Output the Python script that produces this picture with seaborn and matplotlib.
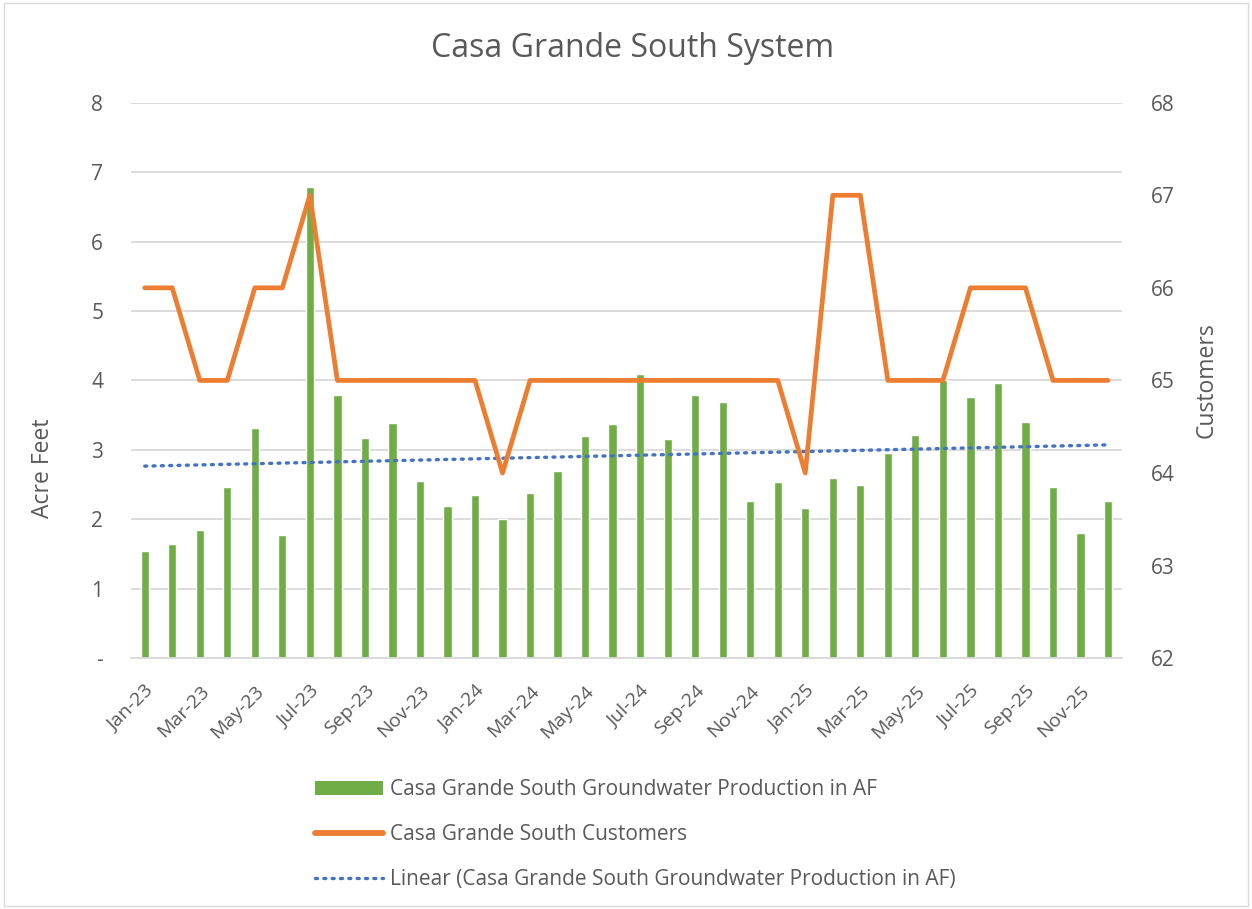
import numpy as np
import pandas as pd
import seaborn as sns
import matplotlib
matplotlib.use('Agg')
import matplotlib.pyplot as plt
from matplotlib.patches import Patch, Rectangle
from matplotlib.lines import Line2D

# --- Data ---
months = ['Jan-23', 'Feb-23', 'Mar-23', 'Apr-23', 'May-23', 'Jun-23',
          'Jul-23', 'Aug-23', 'Sep-23', 'Oct-23', 'Nov-23', 'Dec-23',
          'Jan-24', 'Feb-24', 'Mar-24', 'Apr-24', 'May-24', 'Jun-24',
          'Jul-24', 'Aug-24', 'Sep-24', 'Oct-24', 'Nov-24', 'Dec-24',
          'Jan-25', 'Feb-25', 'Mar-25', 'Apr-25', 'May-25', 'Jun-25',
          'Jul-25', 'Aug-25', 'Sep-25', 'Oct-25', 'Nov-25', 'Dec-25']
production_af = [1.55, 1.65, 1.84, 2.47, 3.32, 1.78,
                 6.78, 3.79, 3.17, 3.38, 2.55, 2.19,
                 2.35, 2.01, 2.38, 2.69, 3.20, 3.37,
                 4.09, 3.15, 3.79, 3.69, 2.27, 2.53,
                 2.16, 2.60, 2.49, 2.96, 3.22, 4.00,
                 3.76, 3.96, 3.40, 2.47, 1.80, 2.26]
customers = [66, 66, 65, 65, 66, 66,
             67, 65, 65, 65, 65, 65,
             65, 64, 65, 65, 65, 65,
             65, 65, 65, 65, 65, 65,
             64, 67, 67, 65, 65, 65,
             66, 66, 66, 65, 65, 65]
left_ticks = [0, 1, 2, 3, 4, 5, 6, 7, 8]
left_labels = ['-', '1', '2', '3', '4', '5', '6', '7', '8']
right_ticks = [62, 63, 64, 65, 66, 67, 68]

GREEN = '#70AD47'
ORANGE = '#ED7D31'
BLUE = '#4472C4'
TEXT = '#595959'
GRID = '#D9D9D9'
DOTS = (0, (0.6, 1.9))

df = pd.DataFrame({'month': months, 'af': production_af, 'customers': customers})
df['idx'] = np.arange(len(df))

# linear trendline of production (like Excel's "Linear" trend)
slope, intercept = np.polyfit(df['idx'], df['af'], 1)
df['trend'] = intercept + slope * df['idx']

sns.set_style('white')
plt.rcParams['font.family'] = ['Open Sans', 'DejaVu Sans']
plt.rcParams['text.color'] = TEXT

fig = plt.figure(figsize=(12.52, 9.09), dpi=100)
ax = fig.add_axes([0.1046, 0.276, 0.7914, 0.611])

sns.barplot(data=df, x='month', y='af', color=GREEN, width=0.3,
            saturation=1, ax=ax, zorder=2)
sns.lineplot(data=df, x='idx', y='trend', ax=ax, color=BLUE, lw=2.4,
             linestyle=DOTS, dash_capstyle='round', zorder=3)

ax.set_xlim(-0.5, len(months) - 0.5)
ax.set_ylim(0, 8)
ax.set_yticks(left_ticks)
ax.set_yticklabels(left_labels)
ax.yaxis.grid(True, color=GRID, lw=1.3)
ax.set_axisbelow(True)
for s in ['top', 'left', 'right']:
    ax.spines[s].set_visible(False)
ax.spines['bottom'].set_color(GRID)
ax.spines['bottom'].set_linewidth(1.3)

ax.set_xticks(df['idx'][::2])
ax.set_xticklabels(months[::2], rotation=45, ha='right',
                   rotation_mode='anchor')
ax.set_xticks(np.arange(-0.5, len(months), 2), minor=True)
ax.tick_params(axis='x', which='major', length=0, pad=17,
               labelsize=14, labelcolor=TEXT)
ax.tick_params(axis='x', which='minor', length=7, color=GRID, width=1.3)
ax.tick_params(axis='y', length=0, labelsize=15, labelcolor=TEXT, pad=20)
ax.set_xlabel('')
ax.set_ylabel('Acre Feet', fontsize=16.5, color=TEXT)
ax.yaxis.set_label_coords(-0.077, 0.342)

ax2 = ax.twinx()
sns.lineplot(data=df, x='idx', y='customers', ax=ax2, color=ORANGE, lw=3.4,
             solid_joinstyle='round', solid_capstyle='round', zorder=4)
ax2.set_ylim(62, 68)
ax2.set_yticks(right_ticks)
ax2.tick_params(axis='y', length=0, labelsize=15, labelcolor=TEXT, pad=21)
ax2.set_ylabel('Customers', fontsize=16.5, color=TEXT)
ax2.yaxis.set_label_coords(1.074, 0.5)
ax2.set_xlabel('')
for s in ax2.spines.values():
    s.set_visible(False)
ax2.set_xlim(-0.5, len(months) - 0.5)

fig.text(0.505, 0.947, 'Casa Grande South System', ha='center', va='center',
         fontsize=23, color=TEXT)

handles = [Patch(facecolor=GREEN, edgecolor='none'),
           Line2D([0], [0], color=ORANGE, lw=4.2, solid_capstyle='round'),
           Line2D([0], [0], color=BLUE, lw=2.4, linestyle=DOTS,
                  dash_capstyle='round')]
labels = ['Casa Grande South Groundwater Production in AF',
          'Casa Grande South Customers',
          'Linear (Casa Grande South Groundwater Production in AF)']
fig.legend(handles, labels, loc='upper left', bbox_to_anchor=(0.2516, 0.143),
           frameon=False, fontsize=15, handlelength=3.27, handleheight=0.68,
           labelspacing=1.16, handletextpad=0.35, labelcolor=TEXT,
           borderaxespad=0, borderpad=0)

fig.patches.append(Rectangle((0.003, 0.003), 0.994, 0.994,
                             transform=fig.transFigure, fill=False,
                             edgecolor=GRID, lw=1.0))

plt.savefig('out.png', dpi=100)
